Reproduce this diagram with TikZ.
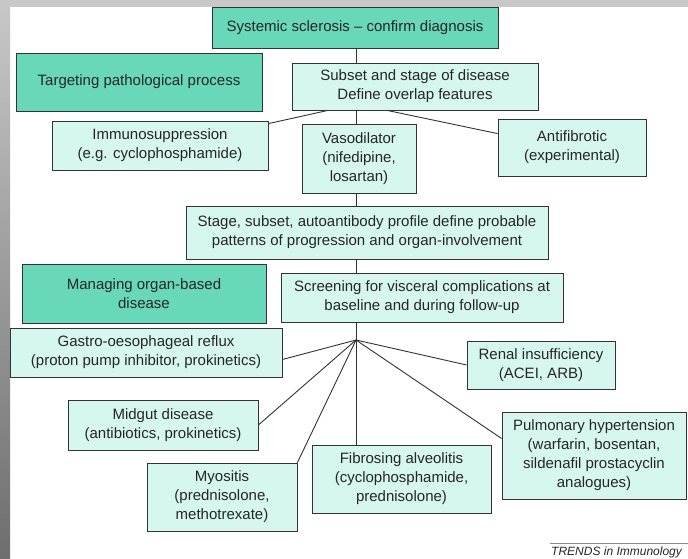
\documentclass[tikz,border=0pt]{standalone}
\usepackage{fontspec}
\setmainfont{Liberation Sans}
\definecolor{darkmint}{RGB}{104,216,184}
\definecolor{lightmint}{RGB}{214,247,238}
\definecolor{bandgray}{RGB}{200,200,200}
\definecolor{bandgraydark}{RGB}{110,110,110}
\begin{document}
\begin{tikzpicture}[x=1pt, y=-1pt,
    box/.style={draw=black!80, line width=0.8pt, fill=lightmint, text=black!85,
      align=center, inner sep=0pt, font=\fontsize{15}{19}\selectfont},
    headbox/.style={box, fill=darkmint},
    link/.style={line width=0.9pt, draw=black!80}]
        \useasboundingbox (0,0) rectangle (688,559);

        % Draw the page and its grey edges
        \fill[white] (0,0) rectangle (688,559);
        \fill[bandgray] (0,0) rectangle (688,7);
        \shade[top color=bandgray, bottom color=bandgraydark] (0,0) rectangle (10,559);

        % Draw the upper part: diagnosis and targeting the process
        \node[headbox, minimum width=286pt, minimum height=41pt] (confirm) at (355,27.5) {Systemic sclerosis -- confirm diagnosis};
        \node[headbox, minimum width=246pt, minimum height=58pt] (targeting) at (139,82) {Targeting pathological process};
        \node[box, minimum width=246pt, minimum height=47pt] (subset) at (415,86.5) {Subset and stage of disease\\Define overlap features};
        \node[box, minimum width=216pt, minimum height=49pt] (immuno) at (160,145.5) {Immunosuppression\\(e.g. cyclophosphamide)};
        \node[box, minimum width=114pt, minimum height=69pt] (vaso) at (359,158.5) {Vasodilator\\(nifedipine,\\losartan)};
        \node[box, minimum width=148pt, minimum height=57pt] (antifib) at (572,147.5) {Antifibrotic\\(experimental)};
        \node[box, minimum width=362pt, minimum height=53pt] (profile) at (367,232.5) {Stage, subset, autoantibody profile define probable\\patterns of progression and organ-involvement};

        % Draw the lower part: managing organ-based disease
        \node[headbox, minimum width=244pt, minimum height=59pt] (managing) at (144,293.5) {Managing organ-based\\disease};
        \node[box, minimum width=282pt, minimum height=49pt] (screening) at (422,297.5) {Screening for visceral complications at\\baseline and during follow-up};
        \node[box, minimum width=272pt, minimum height=49pt] (gastro) at (146,352.5) {Gastro-oesophageal reflux\\(proton pump inhibitor, prokinetics)};
        \node[box, minimum width=148pt, minimum height=48pt] (renal) at (541,365) {Renal insufficiency\\(ACEI, ARB)};
        \node[box, minimum width=190pt, minimum height=50pt] (midgut) at (163,425) {Midgut disease\\(antibiotics, prokinetics)};
        \node[box, minimum width=150pt, minimum height=68pt] (myositis) at (222,497) {Myositis\\(prednisolone,\\methotrexate)};
        \node[box, minimum width=179pt, minimum height=68pt] (fibrosing) at (401.5,479) {Fibrosing alveolitis\\(cyclophosphamide,\\prednisolone)};
        \node[box, minimum width=184pt, minimum height=87pt] (pulmonary) at (594,455.5) {Pulmonary hypertension\\(warfarin, bosentan,\\sildenafil prostacyclin\\analogues)};

        % Connect the chain down the middle
        \draw[link] (confirm.south -| 356,0) -- (356,0 |- subset.north);
        \draw[link] ([xshift=-87pt]subset.south) -- ([yshift=-3pt]immuno.north east);
        \draw[link] ([xshift=-28pt]subset.south) -- ([yshift=-15pt]antifib.north west);
        \draw[link] (subset.south -| 356,0) -- (356,0 |- vaso.north);
        \draw[link] (vaso.south -| 356,0) -- (356,0 |- profile.north);
        \draw[link] (profile.south -| 356,0) -- (356,0 |- screening.north);
        \coordinate (hub) at (356,340);
        \draw[link] (screening.south -| hub) -- (hub);

        % Branch out to the organ complications
        \draw[link] (hub) -- ([yshift=-7pt]gastro.east);
        \draw[link] (hub) -- (renal.west);
        \draw[link] (hub) -- (midgut.east);
        \draw[link] (hub) -- (myositis.north east);
        \draw[link] (hub) -- (hub |- fibrosing.north);
        \draw[link] (hub) -- ([yshift=17pt]pulmonary.west);

        % Journal mark at the foot
        \draw[black!45, line width=1pt] (550,543) -- (688,543);
        \node[anchor=base west, inner sep=0pt, text=black!85, font=\fontsize{12}{12}\selectfont\itshape] (journal) at (551,555) {TRENDS in Immunology};
    \end{tikzpicture}
\end{document}
